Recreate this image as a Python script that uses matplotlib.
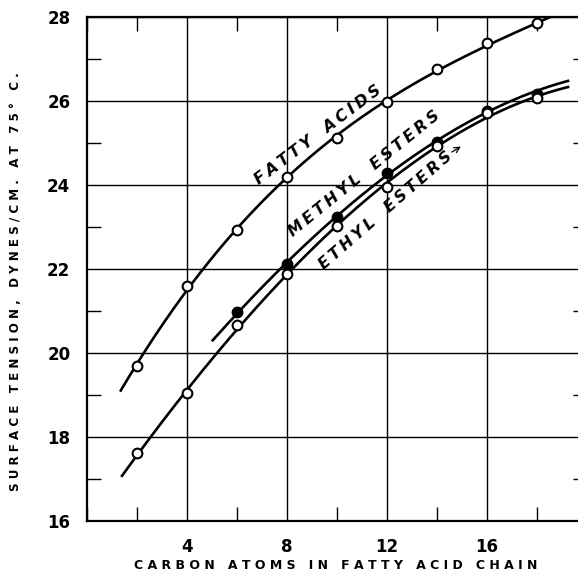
import numpy as np
import matplotlib
matplotlib.use('Agg')
import matplotlib.pyplot as plt
from matplotlib.ticker import MultipleLocator

# carbon atoms and surface tension readings (dynes/cm at 75 C)
acid_x = [2, 4, 6, 8, 10, 12, 14, 16, 18]
acid_y = [19.7, 21.6, 22.93, 24.2, 25.13, 25.97, 26.76, 27.37, 27.86]
methyl_x = [6, 8, 10, 12, 14, 16, 18]
methyl_y = [20.98, 22.11, 23.25, 24.29, 25.03, 25.77, 26.17]
ethyl_x = [2, 4, 6, 8, 10, 12, 14, 16, 18]
ethyl_y = [17.61, 19.04, 20.66, 21.88, 23.02, 23.96, 24.92, 25.72, 26.06]

# where the drawn curves start and stop (x, y)
acid_ends = [(1.35, 19.1), (18.65, 28.0)]
methyl_ends = [(5.03, 20.29), (19.24, 26.52)]
ethyl_ends = [(1.4, 17.05), (19.24, 26.33)]

fig = plt.figure(figsize=(5.78, 5.79), dpi=100)
ax = fig.add_axes([87/578, 58/579, 500/578, 504/579])


def smooth(xs, ys, ends, deg=3):
    # fitted curve through the points and the curve ends
    fx = list(xs) + [e[0] for e in ends]
    fy = list(ys) + [e[1] for e in ends]
    c = np.polyfit(fx, fy, deg)
    xx = np.linspace(ends[0][0], ends[1][0], 200)
    return xx, np.polyval(c, xx)


def spaced(s):
    # wide lettering like the original drawing
    return '   '.join('\u2009'.join(w) for w in s.split())


for xs, ys, ends in [(acid_x, acid_y, acid_ends), (methyl_x, methyl_y, methyl_ends),
                     (ethyl_x, ethyl_y, ethyl_ends)]:
    xx, yy = smooth(xs, ys, ends)
    ax.plot(xx, yy, color='black', lw=1.9, zorder=3)

ax.plot(acid_x, acid_y, 'o', ms=7, mfc='white', mec='black', mew=1.5, zorder=4)
ax.plot(methyl_x, methyl_y, 'o', ms=7, mfc='black', mec='black', mew=1.5, zorder=4)
ax.plot(ethyl_x, ethyl_y, 'o', ms=7, mfc='white', mec='black', mew=1.5, zorder=5)

ax.set_xlim(0, 20)
ax.set_ylim(16, 28)
ax.set_xticks([4, 8, 12, 16])
ax.set_yticks([16, 18, 20, 22, 24, 26, 28])
ax.xaxis.set_minor_locator(MultipleLocator(2))
ax.yaxis.set_minor_locator(MultipleLocator(1))
ax.grid(True, which='major', color='black', lw=1.0)
ax.tick_params(which='major', length=0, pad=12, labelsize=12)
ax.tick_params(which='minor', direction='in', length=10, width=1.0,
               top=True, right=True)
for lab in ax.get_xticklabels() + ax.get_yticklabels():
    lab.set_fontweight('bold')
for s in ['left', 'bottom', 'top']:
    ax.spines[s].set_linewidth(1.6)
ax.spines['right'].set_visible(False)

ax.set_xlabel('C A R B O N   A T O M S   I N   F A T T Y   A C I D   C H A I N',
              fontsize=9, fontweight='bold', labelpad=6)
ax.xaxis.set_label_coords((336 - 87) / 500, -0.075)
ax.set_ylabel('S U R F A C E   T E N S I O N ,   D Y N E S / C M .   A T   7 5 °   C .',
              fontsize=8.6, fontweight='bold')
ax.yaxis.set_label_coords(-0.13, (521 - 282) / 504)

tk = dict(fontsize=11.5, fontweight='bold', fontstyle='italic', ha='center', va='center')
ax.text(9.24, 25.19, spaced('FATTY ACIDS'), rotation=37, **tk)
ax.text(11.08, 24.26, spaced('METHYL ESTERS'), rotation=39, **tk)
ax.text(11.96, 23.4, spaced('ETHYL ESTERS'), rotation=41, **tk)
ax.annotate('', xy=(15.05, 24.95), xytext=(14.5, 24.75),
            arrowprops=dict(arrowstyle='->', color='black', lw=0.9))

fig.savefig('out.png', dpi=100)
